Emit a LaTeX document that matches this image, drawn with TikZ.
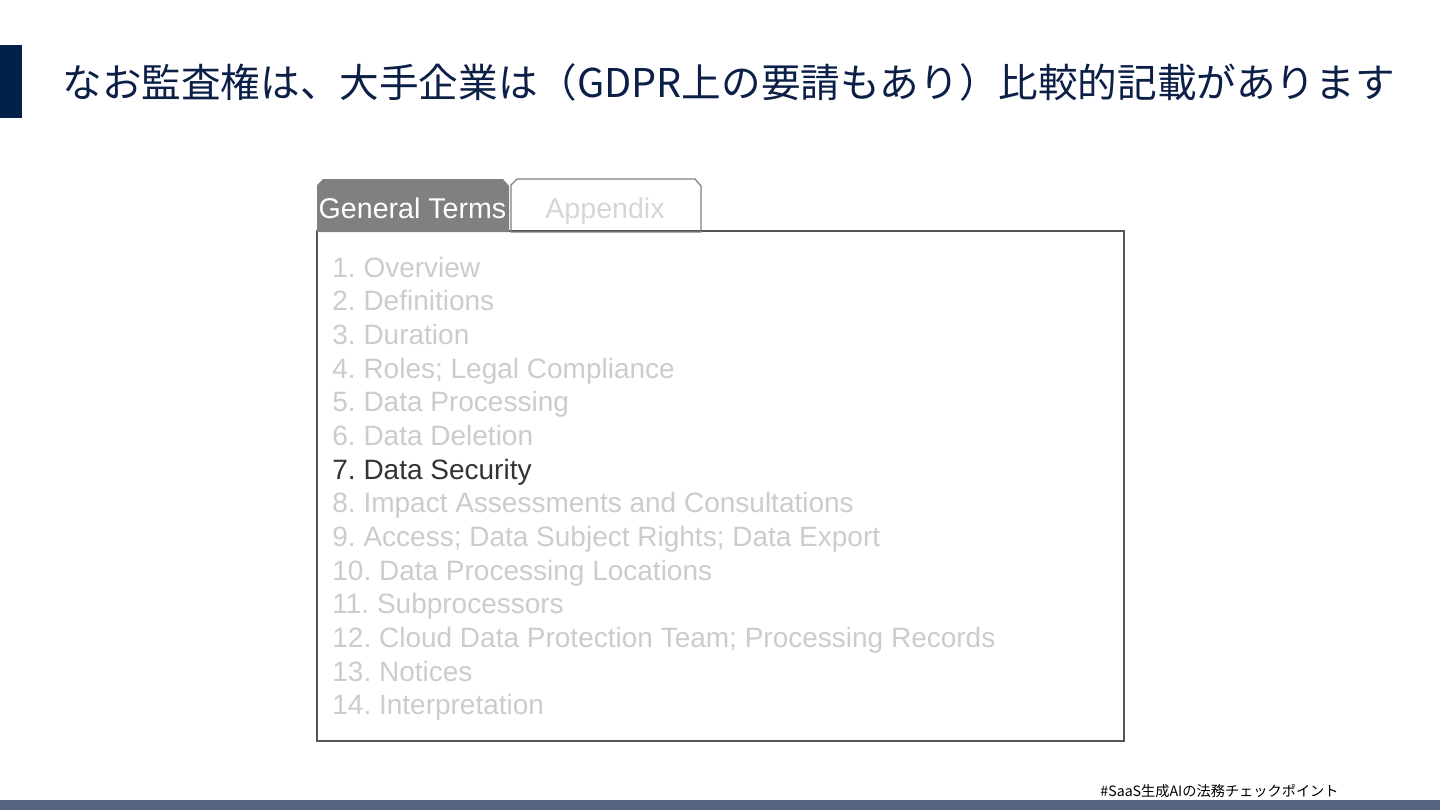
\documentclass[tikz,border=0pt]{standalone}
\usepackage{fontspec}
\setmainfont{Liberation Sans}
\newfontfamily\jpfont{Noto Sans CJK JP}
\frenchspacing
\definecolor{navy}{HTML}{0B1F47}
\definecolor{barnavy}{HTML}{02204A}
\definecolor{footbar}{HTML}{56657F}
\definecolor{tabgray}{HTML}{808080}
\definecolor{faint}{HTML}{CCCCCC}
\definecolor{fainter}{HTML}{D6D6D6}
\definecolor{dark}{HTML}{333333}
\definecolor{boxline}{HTML}{555555}
\tikzset{
  item/.style={anchor=base west, inner sep=0pt, font=\fontsize{14pt}{16pt}\selectfont\frenchspacing, text=faint},
  itemon/.style={item, text=dark},
  tabtext/.style={anchor=base, inner sep=0pt, font=\fontsize{14.3pt}{16pt}\selectfont},
}
\begin{document}
\begin{tikzpicture}[x=0.5pt,y=-0.5pt]
\useasboundingbox (0,0) rectangle (1440,810);
\fill[white] (0,0) rectangle (1440,810);
% left accent bar
\fill[barnavy] (0,45) rectangle (22,118);
% title
\node[anchor=base west, inner sep=0pt, text=navy, font=\jpfont\fontsize{19.8pt}{22pt}\selectfont] (title) at (62,97) {なお監査権は、大手企業は（GDPR上の要請もあり）比較的記載があります};
% main box
\draw[boxline, line width=0.7pt] (317,231) rectangle (1124,741);
% tabs
\fill[tabgray] (317,232) -- (317,185) -- (323,179) -- (503,179) -- (509,186) -- (509,232) -- cycle;
\draw[tabgray, line width=0.6pt] (511,232) -- (511,185) -- (517,179) -- (695,179) -- (701,186) -- (701,232) -- cycle;
\node[tabtext, text=white] (tabgen) at (412.5,218) {General Terms};
\node[tabtext, text=fainter] (tabapp) at (605,218) {Appendix};
% list
\node[item] (i1) at (332,277.0) {1. Overview};
\node[item] (i2) at (332,310.7) {2. Definitions};
\node[item] (i3) at (332,344.3) {3. Duration};
\node[item] (i4) at (332,378.0) {4. Roles; Legal Compliance};
\node[item] (i5) at (332,411.7) {5. Data Processing};
\node[item] (i6) at (332,445.3) {6. Data Deletion};
\node[itemon] (i7) at (332,479.0) {7. Data Security};
\node[item] (i8) at (332,512.7) {8. Impact Assessments and Consultations};
\node[item] (i9) at (332,546.3) {9. Access; Data Subject Rights; Data Export};
\node[item] (i10) at (332,580.0) {10. Data Processing Locations};
\node[item] (i11) at (332,613.7) {11. Subprocessors};
\node[item] (i12) at (332,647.3) {12. Cloud Data Protection Team; Processing Records};
\node[item] (i13) at (332,681.0) {13. Notices};
\node[item] (i14) at (332,714.7) {14. Interpretation};
% footer
\node[anchor=base west, inner sep=0pt, text=black, font=\jpfont\fontsize{7.1pt}{8pt}\selectfont] (foot) at (1100,796) {\#SaaS生成AIの法務チェックポイント};
\fill[footbar] (0,800) rectangle (1440,810);
\end{tikzpicture}
\end{document}
